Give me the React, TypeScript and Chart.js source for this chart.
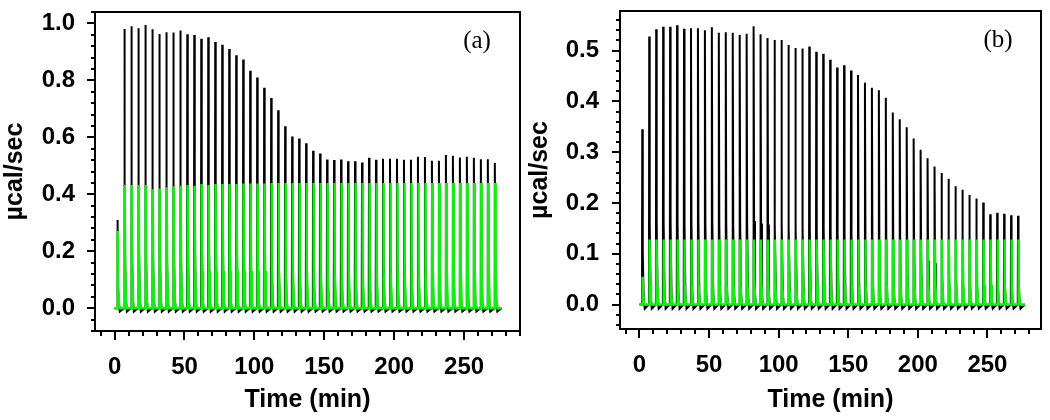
import React, { useEffect, useRef } from "react";
import { Chart, registerables } from "chart.js";

Chart.register(...registerables);

// Injection times (min)
const injectionTimes = [
  2, 7, 12, 17, 22, 27, 32, 37, 42, 47, 52, 57, 62, 67, 72, 77, 82, 87, 92, 97,
  102, 107, 112, 117, 122, 127, 132, 137, 142, 147, 152, 157, 162, 167, 172, 177,
  182, 187, 192, 197, 202, 207, 212, 217, 222, 227, 232, 237, 242, 247, 252, 257,
  262, 267, 272,
];

// Panel (a) peak heights (µcal/sec)
const peaksA_black = [
  0.31, 0.98, 0.99, 0.983, 0.994, 0.979, 0.963, 0.969, 0.968, 0.975, 0.962, 0.959,
  0.946, 0.951, 0.935, 0.925, 0.91, 0.888, 0.873, 0.834, 0.81, 0.774, 0.738, 0.695,
  0.639, 0.603, 0.596, 0.579, 0.553, 0.543, 0.522, 0.52, 0.522, 0.516, 0.516, 0.512,
  0.528, 0.521, 0.525, 0.525, 0.525, 0.521, 0.521, 0.532, 0.531, 0.518, 0.518, 0.538,
  0.535, 0.529, 0.532, 0.528, 0.523, 0.523, 0.51,
];
const peaksA_green = [
  0.271, 0.433, 0.433, 0.433, 0.433, 0.418, 0.42, 0.425, 0.428, 0.43, 0.433, 0.43,
  0.436, 0.433, 0.436, 0.436, 0.436, 0.436, 0.438, 0.438, 0.438, 0.438, 0.44, 0.44,
  0.44, 0.44, 0.44, 0.44, 0.44, 0.44, 0.44, 0.44, 0.44, 0.44, 0.44, 0.44,
  0.44, 0.44, 0.44, 0.44, 0.44, 0.44, 0.44, 0.44, 0.44, 0.44, 0.44, 0.44,
  0.44, 0.44, 0.44, 0.44, 0.44, 0.44, 0.44,
];

// Panel (b) peak heights (µcal/sec)
const peaksB_black = [
  0.345, 0.528, 0.542, 0.547, 0.547, 0.55, 0.543, 0.544, 0.544, 0.54, 0.546, 0.535,
  0.536, 0.535, 0.531, 0.533, 0.548, 0.532, 0.525, 0.521, 0.521, 0.511, 0.505, 0.504,
  0.508, 0.498, 0.494, 0.482, 0.467, 0.471, 0.461, 0.452, 0.437, 0.427, 0.422, 0.407,
  0.378, 0.365, 0.349, 0.327, 0.305, 0.288, 0.272, 0.259, 0.248, 0.233, 0.226, 0.216,
  0.209, 0.201, 0.178, 0.181, 0.179, 0.176, 0.175,
];
const peaksB_green = [
  0.055, 0.128, 0.128, 0.128, 0.128, 0.128, 0.128, 0.128, 0.128, 0.128, 0.128, 0.128,
  0.128, 0.128, 0.128, 0.128, 0.128, 0.128, 0.128, 0.128, 0.128, 0.128, 0.128, 0.128,
  0.128, 0.128, 0.128, 0.128, 0.128, 0.128, 0.128, 0.128, 0.128, 0.128, 0.128, 0.128,
  0.128, 0.128, 0.128, 0.128, 0.128, 0.128, 0.128, 0.128, 0.128, 0.128, 0.128, 0.128,
  0.128, 0.128, 0.128, 0.128, 0.128, 0.128, 0.128,
];

const xTickLabels = [0, 50, 100, 150, 200, 250];
const yTickLabelsA = [0.0, 0.2, 0.4, 0.6, 0.8, 1.0];
const yTickLabelsB = [0.0, 0.1, 0.2, 0.3, 0.4, 0.5];
const xTitle = "Time (min)";
const yTitle = "µcal/sec";

const FONT = '"Liberation Sans", Arial, sans-serif';

function buildTrace(times: number[], heights: number[], shift: number, dip: number) {
  const pts: { x: number; y: number }[] = [{ x: 0, y: 0 }];
  times.forEach((t, i) => {
    const h = heights[i];
    const c = t + shift;
    pts.push({ x: c - 0.2, y: 0 });
    pts.push({ x: c, y: h });
    pts.push({ x: c + 0.35, y: h * 0.3 });
    pts.push({ x: c + 1.0, y: h * 0.04 });
    pts.push({ x: c + 1.8, y: dip });
    pts.push({ x: c + 3.5, y: dip * 0.4 });
  });
  pts.push({ x: 277, y: 0 });
  return pts;
}

const framePlugin = {
  id: "frame",
  afterDatasetsDraw(chart: any, _args: any, opts: any) {
    const { ctx, chartArea: a, scales } = chart;
    const xs = scales.x;
    const ys = scales.y;
    ctx.save();
    ctx.strokeStyle = "#000";
    ctx.lineWidth = 2;
    ctx.strokeRect(a.left, a.top, a.right - a.left, a.bottom - a.top);
    ctx.beginPath();
    for (let k = Math.ceil(xs.min / opts.xMinor); k * opts.xMinor <= xs.max + 1e-9; k++) {
      const px = Math.round(xs.getPixelForValue(k * opts.xMinor));
      ctx.moveTo(px, a.bottom);
      ctx.lineTo(px, a.bottom + 5);
    }
    for (const v of opts.xMajor) {
      const px = Math.round(xs.getPixelForValue(v));
      ctx.moveTo(px, a.bottom);
      ctx.lineTo(px, a.bottom + 9);
    }
    for (let k = Math.ceil(ys.min / opts.yMinor - 1e-6); k * opts.yMinor <= ys.max + 1e-9; k++) {
      const py = Math.round(ys.getPixelForValue(k * opts.yMinor));
      ctx.moveTo(a.left, py);
      ctx.lineTo(a.left - 4, py);
    }
    for (const v of opts.yMajor) {
      const py = Math.round(ys.getPixelForValue(v));
      ctx.moveTo(a.left, py);
      ctx.lineTo(a.left - 8, py);
    }
    ctx.stroke();
    ctx.fillStyle = "#000";
    ctx.font = '25px "Liberation Serif", "Times New Roman", serif';
    ctx.textAlign = "center";
    ctx.textBaseline = "middle";
    ctx.fillText(opts.label, a.right - 43, a.top + 29);
    ctx.restore();
  },
};

function makeConfig(p: any): any {
  return {
    type: "line",
    data: {
      datasets: [
        {
          data: buildTrace(injectionTimes, p.black, 0, p.dip),
          borderColor: "#000000",
          borderWidth: 2,
          pointRadius: 0,
          tension: 0,
          fill: false,
          order: 2,
        },
        {
          data: buildTrace(injectionTimes, p.green, 0.25, 0),
          borderColor: "#12ee12",
          borderWidth: 2.5,
          pointRadius: 0,
          tension: 0,
          fill: false,
          order: 1,
        },
      ],
    },
    options: {
      animation: false,
      responsive: false,
      maintainAspectRatio: false,
      devicePixelRatio: 1,
      layout: { padding: p.padding },
      plugins: {
        legend: { display: false },
        tooltip: { enabled: false },
        frame: {
          label: p.label,
          xMinor: 10,
          yMinor: p.yMinor,
          xMajor: xTickLabels,
          yMajor: p.yTicks,
        },
      },
      scales: {
        x: {
          type: "linear",
          min: -14,
          max: p.xMax,
          afterBuildTicks: (s: any) => {
            s.ticks = xTickLabels.map((v) => ({ value: v }));
          },
          afterFit: (s: any) => {
            s.height = p.xHeight;
            s.paddingLeft = 0;
            s.paddingRight = 0;
            s.paddingTop = 0;
            s.paddingBottom = 0;
          },
          grid: { display: false, drawTicks: false },
          border: { display: false },
          ticks: {
            autoSkip: false,
            maxRotation: 0,
            padding: 22,
            color: "#000",
            font: { family: FONT, size: 24, weight: "bold" },
          },
          title: {
            display: true,
            text: xTitle,
            color: "#000",
            font: { family: FONT, size: 25, weight: "bold" },
            padding: { top: 0, bottom: 5 },
          },
        },
        y: {
          type: "linear",
          min: p.yMin,
          max: p.yMax,
          afterBuildTicks: (s: any) => {
            s.ticks = p.yTicks.map((v: number) => ({ value: v }));
          },
          afterFit: (s: any) => {
            s.width = 95;
            s.paddingLeft = 0;
            s.paddingRight = 0;
            s.paddingTop = 0;
            s.paddingBottom = 0;
          },
          grid: { display: false, drawTicks: false },
          border: { display: false },
          ticks: {
            autoSkip: false,
            padding: p.yPad,
            color: "#000",
            font: { family: FONT, size: 24, weight: "bold" },
            callback: (v: any) => Number(v).toFixed(1),
          },
          title: {
            display: true,
            text: yTitle,
            color: "#000",
            font: { family: FONT, size: 25, weight: "bold" },
            padding: { top: 0, bottom: 0 },
          },
        },
      },
    },
    plugins: [framePlugin],
  };
}

const panelA = {
  black: peaksA_black,
  green: peaksA_green,
  dip: -0.012,
  yMin: -0.08,
  yMax: 1.04,
  yMinor: 0.04,
  yTicks: yTickLabelsA,
  yPad: 20,
  xMax: 290,
  xHeight: 89,
  label: "(a)",
  padding: { left: 0, right: 5, top: 12, bottom: 0 },
};

const panelB = {
  black: peaksB_black,
  green: peaksB_green,
  dip: -0.008,
  yMin: -0.048,
  yMax: 0.578,
  yMinor: 0.02,
  yTicks: yTickLabelsB,
  yPad: 21,
  xMax: 288.5,
  xHeight: 91,
  label: "(b)",
  padding: { left: 0, right: 9, top: 11, bottom: 0 },
};

export default function App() {
  const refA = useRef<HTMLCanvasElement>(null);
  const refB = useRef<HTMLCanvasElement>(null);
  useEffect(() => {
    const a = new Chart(refA.current as HTMLCanvasElement, makeConfig(panelA));
    const b = new Chart(refB.current as HTMLCanvasElement, makeConfig(panelB));
    return () => {
      a.destroy();
      b.destroy();
    };
  }, []);
  return (
    <div style={{ position: "absolute", left: 0, top: 0, width: 1050, height: 420, background: "#fff" }}>
      <canvas
        ref={refA}
        width={525}
        height={420}
        style={{ position: "absolute", left: 0, top: 0, width: 525, height: 420 }}
      />
      <canvas
        ref={refB}
        width={525}
        height={420}
        style={{ position: "absolute", left: 525, top: 0, width: 525, height: 420 }}
      />
    </div>
  );
}
